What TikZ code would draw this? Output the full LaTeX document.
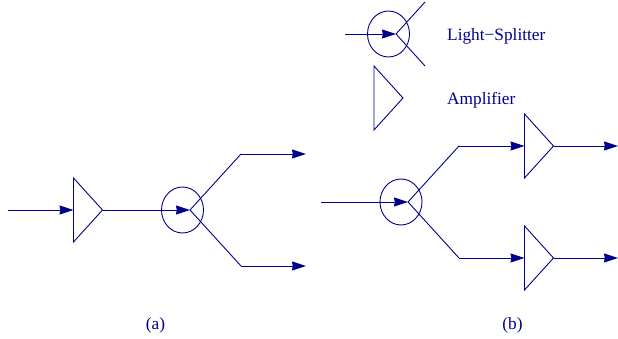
\documentclass[tikz,border=0pt]{standalone}
\usepackage{fontspec}
\setmainfont{Liberation Serif}
\usetikzlibrary{arrows.meta,shapes.geometric}
\definecolor{ink}{RGB}{0,0,140}
\tikzset{
  wire/.style={draw=ink,line width=0.9pt},
  flow/.style={wire,-{Stealth[length=14pt,width=9pt,inset=0.8pt]}},
  splitter/.style={ellipse,draw=ink,line width=0.9pt,minimum width=42pt,minimum height=46pt,inner sep=0pt},
  amp/.style={wire,line join=miter},
  lbl/.style={text=ink,font=\fontsize{17.3pt}{20pt}\selectfont,inner sep=0pt}
}
\begin{document}
\begin{tikzpicture}[x=1pt,y=-1pt]
\useasboundingbox (0,0) rectangle (618,339);
% legend
\coordinate (lin) at (345,34);
\coordinate (lc) at (396,34);
\coordinate (lu) at (425,2);
\coordinate (ld) at (425,66);
\node[splitter] (ls) at (388.5,34) {};
\draw[flow] (lin) -- (lc);
\draw[wire] (lc) -- (lu);
\draw[wire] (lc) -- (ld);
\coordinate (lat) at (374,66);
\coordinate (lab) at (374,130);
\coordinate (lap) at (403,98);
\draw[amp] (lat) -- (lap) -- (lab) -- cycle;
\node[lbl,anchor=west] (t1) at (447,36) {Light−Splitter};
\node[lbl,anchor=west] (t2) at (447,100) {Amplifier};
% (a)
\coordinate (ain) at (8,210);
\coordinate (aat) at (73.5,178);
\coordinate (aab) at (73.5,242);
\coordinate (aal) at (73.5,210);
\coordinate (aap) at (102.5,210);
\coordinate (ac) at (190,210);
\coordinate (aub) at (241,154);
\coordinate (adb) at (241,266);
\coordinate (aue) at (306,154);
\coordinate (ade) at (306,266);
\node[splitter] (as) at (182.5,210) {};
\draw[flow] (ain) -- (aal);
\draw[amp] (aat) -- (aap) -- (aab) -- cycle;
\draw[flow] (aap) -- (ac);
\draw[wire] (ac) -- (aub);
\draw[flow] (aub) -- (aue);
\draw[wire] (ac) -- (adb);
\draw[flow] (adb) -- (ade);
\node[lbl] (ta) at (155.5,325) {(a)};
% (b)
\coordinate (bin) at (321,202);
\coordinate (bc) at (408,202);
\coordinate (bub) at (459,146);
\coordinate (bdb) at (459,258);
\coordinate (bul) at (524.5,146);
\coordinate (bdl) at (524.5,258);
\coordinate (but) at (524.5,114);
\coordinate (bubm) at (524.5,178);
\coordinate (bup) at (553.5,146);
\coordinate (bdt) at (524.5,226);
\coordinate (bdbm) at (524.5,290);
\coordinate (bdp) at (553.5,258);
\coordinate (bue) at (618,146);
\coordinate (bde) at (618,258);
\node[splitter] (bs) at (401,202) {};
\draw[flow] (bin) -- (bc);
\draw[wire] (bc) -- (bub);
\draw[flow] (bub) -- (bul);
\draw[wire] (bc) -- (bdb);
\draw[flow] (bdb) -- (bdl);
\draw[amp] (but) -- (bup) -- (bubm) -- cycle;
\draw[amp] (bdt) -- (bdp) -- (bdbm) -- cycle;
\draw[flow] (bup) -- (bue);
\draw[flow] (bdp) -- (bde);
\node[lbl] (tb) at (512.5,325) {(b)};
\end{tikzpicture}
\end{document}
